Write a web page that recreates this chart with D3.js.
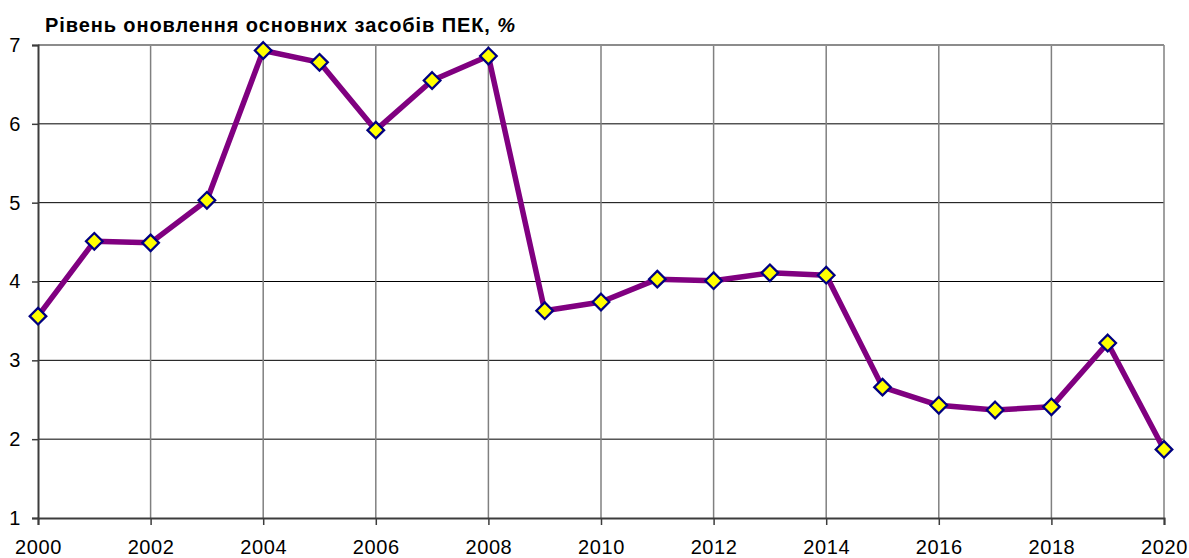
<!DOCTYPE html>
<html>
<head>
<meta charset="utf-8">
<script src="https://cdn.jsdelivr.net/npm/d3@7"></script>
<style>
  body { margin: 0; background: #fff; }
  svg { display: block; font-family: Arial, "Liberation Sans", sans-serif; }
</style>
</head>
<body>
<div class="chart"></div>
<script>
// дані
const years = [2000, 2001, 2002, 2003, 2004, 2005, 2006, 2007, 2008, 2009, 2010,
               2011, 2012, 2013, 2014, 2015, 2016, 2017, 2018, 2019, 2020]
const values = [3.56, 4.51, 4.49, 5.03, 6.93, 6.78, 5.92, 6.55, 6.86, 3.63, 3.74,
                4.03, 4.01, 4.11, 4.08, 2.66, 2.43, 2.37, 2.41, 3.22, 1.87]
const xTicks = [2000, 2002, 2004, 2006, 2008, 2010, 2012, 2014, 2016, 2018, 2020]
const yTicks = [1, 2, 3, 4, 5, 6, 7]
const titleText = "Рівень оновлення основних засобів ПЕК, "

const WIDTH = 1189
const HEIGHT = 558
const margin = { top: 45, bottom: 40, left: 38, right: 25 }
const width = WIDTH - margin.left - margin.right
const height = HEIGHT - margin.top - margin.bottom

const svg = d3.select(".chart").append("svg")
  .attr("width", WIDTH)
  .attr("height", HEIGHT)

const xScale = d3.scaleLinear().domain([2000, 2020]).range([0, width])
const yScale = d3.scaleLinear().domain([1, 7]).range([height, 0])

const g = svg.append("g").attr("transform", `translate(${margin.left}, ${margin.top})`)

// сітка горизонтальна
g.selectAll(".hgrid")
  .data(yTicks.filter(d => d > 1 && d < 7))
  .join("line")
  .attr("x1", 0).attr("x2", width)
  .attr("y1", d => yScale(d)).attr("y2", d => yScale(d))
  .attr("stroke", "#000").attr("stroke-width", 1)

// сітка вертикальна
g.selectAll(".vgrid")
  .data(xTicks.filter(d => d > 2000))
  .join("line")
  .attr("x1", d => xScale(d)).attr("x2", d => xScale(d))
  .attr("y1", 0).attr("y2", height)
  .attr("stroke", "#808080").attr("stroke-width", 1.5)

// верхня межа
g.append("line")
  .attr("x1", 0).attr("x2", width)
  .attr("y1", yScale(7)).attr("y2", yScale(7))
  .attr("stroke", "#8c8c8c").attr("stroke-width", 2)

// осі
const xAxis = d3.axisBottom(xScale).tickValues(xTicks).tickFormat(d3.format("d"))
  .tickSize(7).tickPadding(15)
const yAxis = d3.axisLeft(yScale).tickValues(yTicks).tickFormat(d3.format("d"))
  .tickSize(6).tickPadding(11)

const xAxisG = g.append("g").attr("transform", `translate(0, ${height})`).call(xAxis)
const yAxisG = g.append("g").call(yAxis)

;[xAxisG, yAxisG].forEach(a => {
  a.select(".domain").attr("stroke", "#3c3c3c").attr("stroke-width", 2)
  a.selectAll(".tick line").attr("stroke", "#3c3c3c").attr("stroke-width", 1.5)
  a.selectAll(".tick text").attr("fill", "#000").style("font-size", "20px")
    .style("letter-spacing", "0.6px")
    .style("font-family", "Arial, 'Liberation Sans', sans-serif")
})
xAxisG.selectAll(".tick text").attr("dy", "0.71em")

// лінія
const lineGenerator = d3.line()
  .x((d, i) => xScale(years[i]))
  .y(d => yScale(d))

g.append("path")
  .datum(values)
  .attr("d", lineGenerator)
  .attr("fill", "none")
  .attr("stroke", "#800080")
  .attr("stroke-width", 5.5)
  .attr("stroke-linejoin", "round")

// маркери
const diamond = d3.symbol().type(d3.symbolDiamond2).size(175)
g.selectAll(".marker")
  .data(values)
  .join("path")
  .attr("transform", (d, i) => `translate(${xScale(years[i])}, ${yScale(d)})`)
  .attr("d", diamond)
  .attr("fill", "#ffff00")
  .attr("stroke", "#000080")
  .attr("stroke-width", 2.3)

// заголовок
const title = svg.append("text")
  .attr("x", 45).attr("y", 32)
  .attr("font-size", "20px")
  .attr("font-weight", "bold")
  .attr("letter-spacing", "0.9px")
  .attr("fill", "#000")
title.append("tspan").text(titleText)
title.append("tspan").attr("font-style", "italic").text("%")
</script>
</body>
</html>
